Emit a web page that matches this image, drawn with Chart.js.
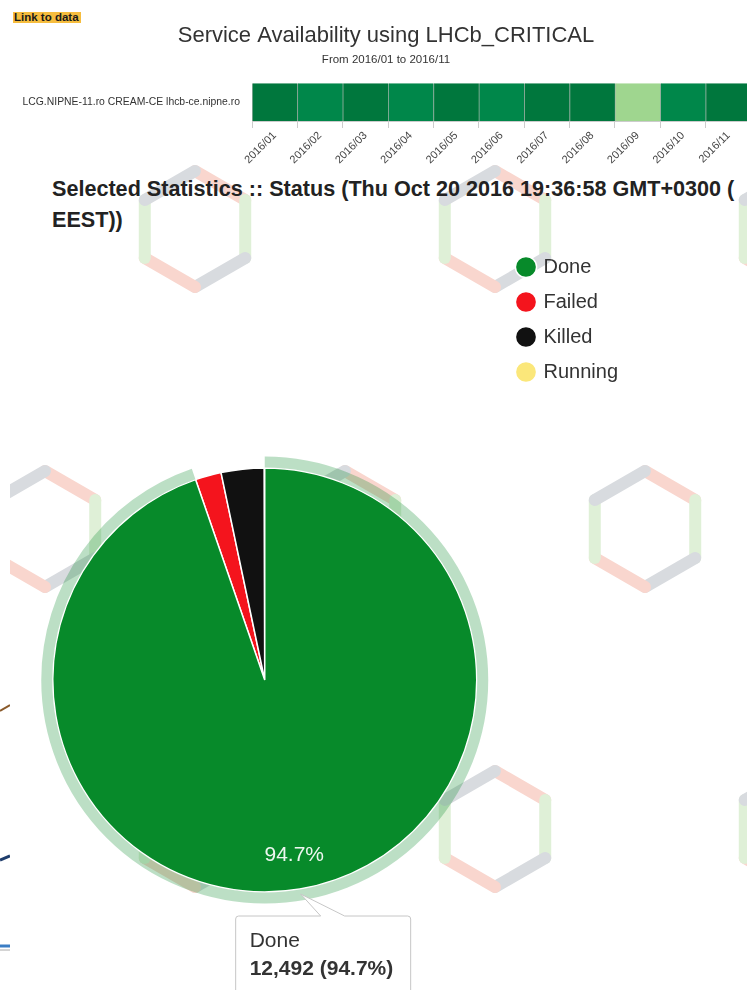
<!DOCTYPE html>
<html>
<head>
<meta charset="utf-8">
<title>Service Availability</title>
<script src="https://cdn.jsdelivr.net/npm/chart.js@4.4.1/dist/chart.umd.min.js"></script>
<style>
    body {
        margin: 0;
        width: 747px;
        height: 990px;
        overflow: hidden;
        position: relative;
        background: #fff;
        font-family: "Liberation Sans", Arial, sans-serif;
    }
    #hexes { position: absolute; left: 0; top: 0; }
    .link {
        position: absolute;
        left: 13px;
        top: 12px;
        padding: 0 2px 0 1px;
        background: #f6bd3e;
        color: #1a1a1a;
        font: bold 11.5px/11px "Liberation Sans", Arial, sans-serif;
    }
    #availWrap { position: absolute; left: 0; top: 10px; width: 751px; height: 160px; }
    #statsTitle {
        position: absolute;
        left: 52px;
        top: 173px;
        width: 692px;
        color: #222;
        font: bold 21.6px/31px "Liberation Sans", Arial, sans-serif;
    }
    #pieWrap { position: absolute; left: 0; top: 240px; width: 747px; height: 878px; }
    #edge { position: absolute; left: 0; top: 0; width: 10px; height: 990px; background: #fff; }
</style>
</head>
<body>
<svg id="hexes" width="747" height="990"></svg>
<div id="edge">
    <svg width="10" height="990">
        <line x1="0" y1="711" x2="10" y2="705" stroke="#8a5a2b" stroke-width="2"/>
        <line x1="0" y1="860" x2="10" y2="856" stroke="#1f3d6c" stroke-width="3"/>
        <line x1="0" y1="946" x2="10" y2="946" stroke="#3b7dc4" stroke-width="3"/>
        <line x1="0" y1="950" x2="10" y2="950" stroke="#aaa" stroke-width="1"/>
    </svg>
</div>
<span class="link">Link to data</span>
<div id="availWrap"><canvas id="availChart"></canvas></div>
<div id="statsTitle">Selected Statistics :: Status (Thu Oct 20 2016 19:36:58 GMT+0300 ( EEST))</div>
<div id="pieWrap"><canvas id="statusChart"></canvas></div>

<script>
// Monthly availability of the service
const months = ['2016/01', '2016/02', '2016/03', '2016/04', '2016/05', '2016/06',
                '2016/07', '2016/08', '2016/09', '2016/10', '2016/11'];
const availability = [100, 98, 100, 97, 100, 98, 100, 100, 82, 99, 100];
const serviceName = 'LCG.NIPNE-11.ro CREAM-CE lhcb-ce.nipne.ro';

// Job status breakdown
const statusLabels = ['Done', 'Failed', 'Killed', 'Running'];
const statusCounts = [12492, 262, 432, 4];
const statusColors = ['#078a2a', '#f4141d', '#111111', '#fbe77a'];

Chart.defaults.font.family = '"Liberation Sans", Arial, sans-serif';
Chart.defaults.animation = false;

// faint hexagon pattern behind the page
function drawHexagons() {
    const svg = document.getElementById('hexes');
    const r = 58;
    // edge colours, clockwise from the top vertex
    const edgeColors = ['#f9d6ce', '#dff0d7', '#d8dbdf', '#f9d6ce', '#dff0d7', '#d8dbdf'];
    let html = '';
    for (let row = 0; row < 4; row++) {
        const cy = 229 + row * 300;
        const shift = row % 2 ? -150 : 0;
        for (let col = 0; col < 4; col++) {
            const cx = 195 + shift + col * 300;
            const pts = [];
            for (let k = 0; k < 6; k++) {
                const a = (-90 + k * 60) * Math.PI / 180;
                pts.push([cx + r * Math.cos(a), cy + r * Math.sin(a)]);
            }
            for (let k = 0; k < 6; k++) {
                const p = pts[k], q = pts[(k + 1) % 6];
                html += `<line x1="${p[0]}" y1="${p[1]}" x2="${q[0]}" y2="${q[1]}" stroke="${edgeColors[k]}" stroke-width="12" stroke-linecap="round"/>`;
            }
        }
    }
    svg.innerHTML = html;
}
drawHexagons();

function availColor(v) {
    if (v >= 99.5) return '#00773d';
    if (v >= 95) return '#00874a';
    if (v >= 90) return '#4caf6a';
    return '#9fd68f';
}

// Availability strip: one full-height cell per month
new Chart(document.getElementById('availChart'), {
    type: 'bar',
    data: {
        labels: months,
        datasets: [{
            data: months.map(() => [0, 1]),
            backgroundColor: availability.map(availColor),
            borderColor: 'rgba(0, 45, 20, 0.35)',
            borderWidth: { left: 1, right: 0, top: 0, bottom: 0 },
            borderSkipped: false,
            barPercentage: 1,
            categoryPercentage: 1
        }]
    },
    options: {
        responsive: true,
        maintainAspectRatio: false,
        events: [],
        layout: { padding: { left: 21, right: 0, top: 0, bottom: 0 } },
        plugins: {
            legend: { display: false },
            tooltip: { enabled: false },
            title: {
                display: true,
                text: 'Service Availability using LHCb_CRITICAL',
                color: '#333',
                font: { size: 22, weight: 'normal' },
                padding: { top: 13, bottom: 0 }
            },
            subtitle: {
                display: true,
                text: `From ${months[0]} to ${months[months.length - 1]}`,
                color: '#333',
                font: { size: 11.5 },
                padding: { top: 4, bottom: 16 }
            }
        },
        scales: {
            x: {
                grid: { offset: true, drawOnChartArea: false, drawTicks: true, tickLength: 7, color: '#ccc' },
                border: { display: true, color: '#ccc' },
                ticks: { minRotation: 45, maxRotation: 45, autoSkip: false, color: '#444', font: { size: 11 }, padding: 1 },
                afterFit: (scale) => { scale.height = 49; }
            },
            y: {
                min: 0,
                max: 1,
                grid: { display: false, drawTicks: false },
                border: { display: false },
                afterBuildTicks: (scale) => { scale.ticks = [{ value: 0.5 }]; },
                ticks: { callback: () => serviceName, color: '#333', font: { size: 10.4 }, padding: 12 },
                afterFit: (scale) => { scale.width = 231; }
            }
        }
    }
});

function withAlpha(hex, a) {
    const n = parseInt(hex.slice(1), 16);
    return `rgba(${n >> 16}, ${(n >> 8) & 255}, ${n & 255}, ${a})`;
}

const statusTotal = statusCounts.reduce((a, b) => a + b, 0);
const pct = (v) => (v / statusTotal * 100).toFixed(1) + '%';

// light ring around the highlighted slice
const haloPlugin = {
    id: 'halo',
    afterDatasetsDraw(chart) {
        const ctx = chart.ctx;
        chart.getActiveElements().forEach(({ element, index }) => {
            const p = element.getProps(['x', 'y', 'startAngle', 'endAngle', 'outerRadius'], true);
            ctx.save();
            ctx.beginPath();
            ctx.arc(p.x, p.y, p.outerRadius + 6, p.startAngle, p.endAngle);
            ctx.lineWidth = 11;
            ctx.strokeStyle = withAlpha(statusColors[index], 0.27);
            ctx.stroke();
            ctx.restore();
        });
    }
};

// percentage written inside the large slices
const sliceLabels = {
    id: 'sliceLabels',
    afterDatasetsDraw(chart) {
        const ctx = chart.ctx;
        chart.getDatasetMeta(0).data.forEach((arc, i) => {
            if (statusCounts[i] / statusTotal < 0.05) return;
            const p = arc.getProps(['x', 'y', 'startAngle', 'endAngle', 'outerRadius'], true);
            const mid = (p.startAngle + p.endAngle) / 2;
            const d = p.outerRadius * 0.84;
            ctx.save();
            ctx.font = '21px "Liberation Sans", Arial, sans-serif';
            ctx.fillStyle = 'rgba(255, 255, 255, 0.93)';
            ctx.textAlign = 'center';
            ctx.textBaseline = 'middle';
            ctx.fillText(pct(statusCounts[i]), p.x + Math.cos(mid) * d, p.y + Math.sin(mid) * d);
            ctx.restore();
        });
    }
};

// callout box for the highlighted slice
const calloutPlugin = {
    id: 'callout',
    afterDraw(chart) {
        const active = chart.getActiveElements()[0];
        if (!active) return;
        const i = active.index;
        const p = active.element.getProps(['x', 'y', 'startAngle', 'endAngle', 'outerRadius'], true);
        const mid = (p.startAngle + p.endAngle) / 2;
        const ax = p.x + Math.cos(mid) * (p.outerRadius + 5);
        const ay = p.y + Math.sin(mid) * (p.outerRadius + 5);
        const left = ax - 65, top = ay + 22, w = 175, h = 96, r = 3;
        const ctx = chart.ctx;
        ctx.save();
        ctx.beginPath();
        ctx.moveTo(left + r, top);
        ctx.lineTo(ax + 20, top);
        ctx.lineTo(ax, ay);
        ctx.lineTo(ax + 44, top);
        ctx.lineTo(left + w - r, top);
        ctx.arcTo(left + w, top, left + w, top + r, r);
        ctx.lineTo(left + w, top + h - r);
        ctx.arcTo(left + w, top + h, left + w - r, top + h, r);
        ctx.lineTo(left + r, top + h);
        ctx.arcTo(left, top + h, left, top + h - r, r);
        ctx.lineTo(left, top + r);
        ctx.arcTo(left, top, left + r, top, r);
        ctx.closePath();
        ctx.fillStyle = 'rgba(255, 255, 255, 0.92)';
        ctx.fill();
        ctx.strokeStyle = '#c6c6c6';
        ctx.lineWidth = 1;
        ctx.stroke();
        ctx.fillStyle = '#333';
        ctx.textBaseline = 'middle';
        ctx.font = '21px "Liberation Sans", Arial, sans-serif';
        ctx.fillText(statusLabels[i], left + 14, top + 25);
        ctx.font = 'bold 21px "Liberation Sans", Arial, sans-serif';
        ctx.fillText(`${statusCounts[i].toLocaleString('en-US')} (${pct(statusCounts[i])})`, left + 14, top + 53);
        ctx.restore();
    }
};

const statusChart = new Chart(document.getElementById('statusChart'), {
    type: 'pie',
    data: {
        labels: statusLabels,
        datasets: [{
            data: statusCounts,
            backgroundColor: statusColors,
            hoverBackgroundColor: statusColors,
            borderColor: '#fff',
            hoverBorderColor: '#fff',
            borderWidth: 1.5,
            hoverBorderWidth: 1.5,
            hoverOffset: 0
        }]
    },
    options: {
        responsive: true,
        maintainAspectRatio: false,
        events: [],
        radius: 212,
        layout: { padding: { left: 26, right: 119, top: 2, bottom: 0 } },
        plugins: {
            tooltip: { enabled: false },
            legend: {
                position: 'right',
                align: 'start',
                labels: {
                    usePointStyle: true,
                    pointStyle: 'circle',
                    boxWidth: 15,
                    boxHeight: 15,
                    padding: 15,
                    color: '#333',
                    font: { size: 20 }
                }
            }
        }
    },
    plugins: [haloPlugin, sliceLabels, calloutPlugin]
});

statusChart.setActiveElements([{ datasetIndex: 0, index: 0 }]);
statusChart.update();
</script>
</body>
</html>
